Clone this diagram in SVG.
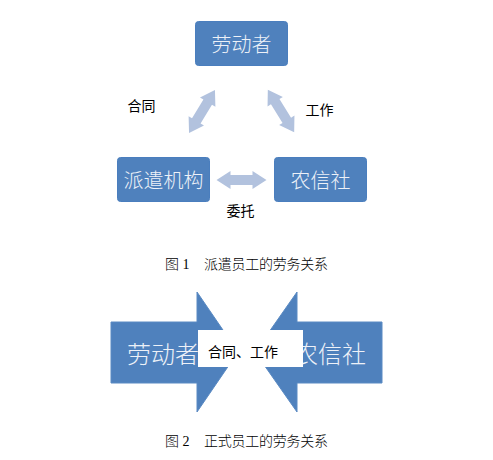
<svg xmlns="http://www.w3.org/2000/svg" width="493" height="460" viewBox="0 0 493 460">
<style>
.box{fill:#4F81BD;stroke:#4A7EBE;stroke-width:1}
.boxtxt{font-family:"Noto Sans CJK SC","Noto Sans",sans-serif;font-size:20px;font-weight:300;fill:#EDF1F8;text-anchor:middle;dominant-baseline:central}
.lbl{font-family:"Noto Sans CJK SC","Noto Sans",sans-serif;font-size:14px;fill:#000;text-anchor:middle;dominant-baseline:central}
.cap{font-family:"Liberation Serif","Noto Sans CJK SC",serif;font-size:14px;font-weight:300;fill:#000;dominant-baseline:central}
.dbl{fill:#B2C2DE}
.big{fill:#4F81BD;stroke:#5A8AC3;stroke-width:1}
.bigtxt{font-family:"Noto Sans CJK SC","Noto Sans",sans-serif;font-size:24px;font-weight:300;fill:#EDF1F8;text-anchor:middle;dominant-baseline:central}
</style>
<defs>
<path id="da" d="M-25,0 L-11,-9 L-11,-5 L11,-5 L11,-9 L25,0 L11,9 L11,5 L-11,5 L-11,9 Z"/>
</defs>
<rect width="493" height="460" fill="#fff"/>
<g id="connectors">
<use href="#da" class="dbl" transform="translate(202,111.5) rotate(-58.8)"/>
<use href="#da" class="dbl" transform="translate(281,111) rotate(58.2)"/>
<use href="#da" class="dbl" transform="translate(241.5,180)"/>
</g>
<g id="node-laodongzhe">
<rect class="box" x="195.5" y="21.5" width="92" height="44" rx="3"/>
<text class="boxtxt" x="241.5" y="43.5">劳动者</text>
</g>
<g id="node-paiqian">
<rect class="box" x="117.5" y="157.5" width="92" height="44" rx="3"/>
<text class="boxtxt" x="163.5" y="179.5">派遣机构</text>
</g>
<g id="node-nongxinshe">
<rect class="box" x="274.5" y="157.5" width="92" height="44" rx="3"/>
<text class="boxtxt" x="320.5" y="179.5">农信社</text>
</g>
<g id="labels">
<text class="lbl" x="141.5" y="105">合同</text>
<text class="lbl" x="319.5" y="108.5">工作</text>
<text class="lbl" x="240.5" y="209.5">委托</text>
</g>
<g id="caption1">
<text class="cap" x="165" y="264">图 1</text>
<text class="cap" x="204" y="264" textLength="124">派遣员工的劳务关系</text>
</g>
<g id="node-arrow-left">
<path class="big" d="M111,322 L197,322 L197,292 L238,352 L197,412 L197,383 L111,383 Z"/>
<text class="bigtxt" x="163" y="352">劳动者</text>
</g>
<g id="node-arrow-right">
<path class="big" d="M382,322 L297,322 L297,292 L255,352 L297,412 L297,383 L382,383 Z"/>
<text class="bigtxt" x="330" y="352">农信社</text>
</g>
<g id="node-center-label">
<rect x="198" y="330" width="105" height="37" fill="#fff"/>
<text class="lbl" x="208" y="351" style="text-anchor:start">合同、工作</text>
</g>
<g id="caption2">
<text class="cap" x="165" y="441">图 2</text>
<text class="cap" x="204" y="441" textLength="124">正式员工的劳务关系</text>
</g>
</svg>
